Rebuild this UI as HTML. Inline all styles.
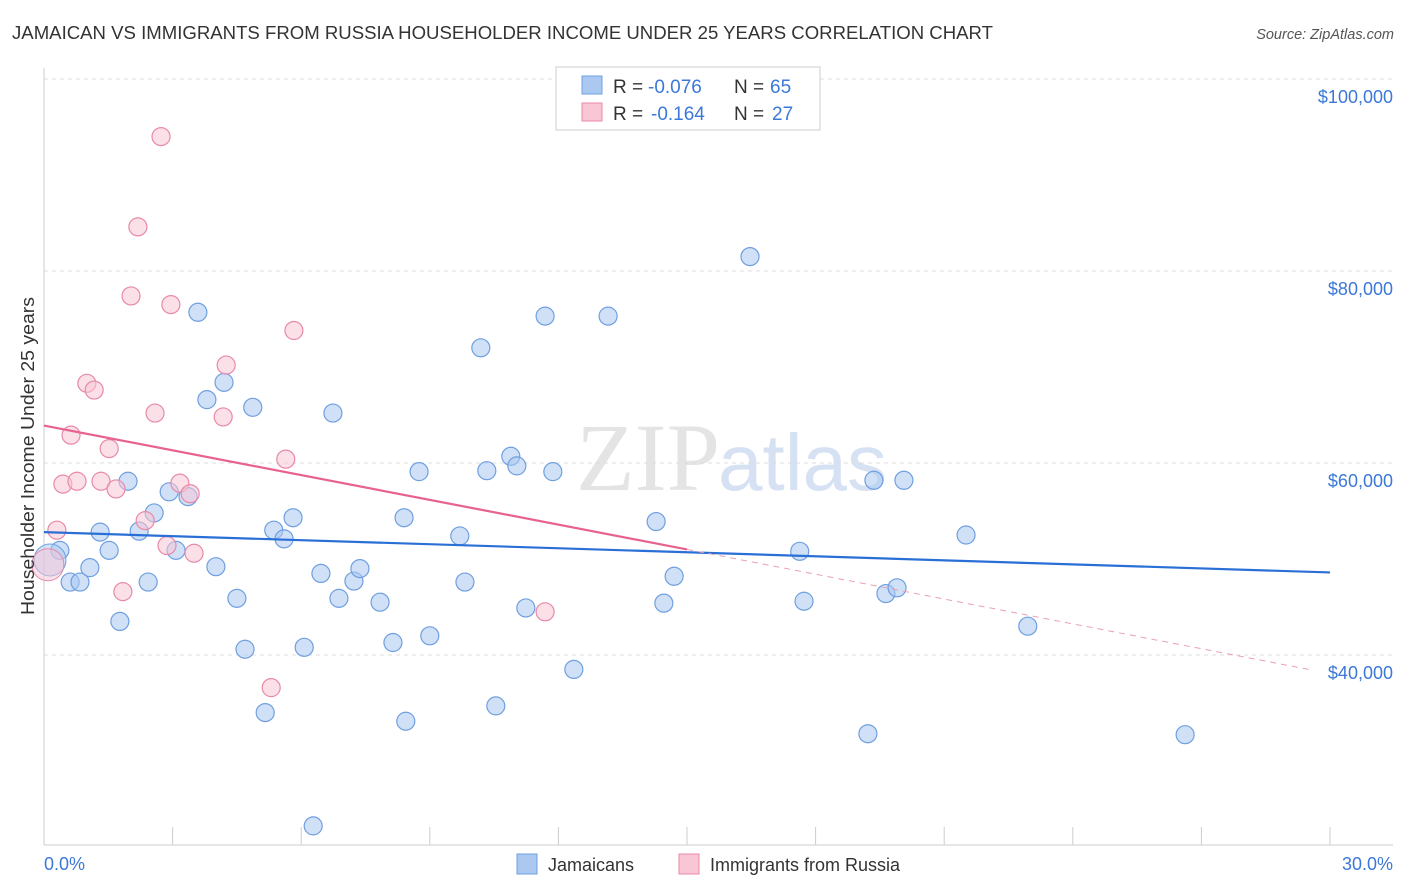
<!DOCTYPE html>
<html><head><meta charset="utf-8">
<style>
body{margin:0;background:#fff;font-family:"Liberation Sans",sans-serif;}
svg{display:block}
</style></head>
<body>
<svg id="chart" width="1406" height="892">
<text x="12" y="39" font-size="18" fill="#333" textLength="981" lengthAdjust="spacingAndGlyphs">JAMAICAN VS IMMIGRANTS FROM RUSSIA HOUSEHOLDER INCOME UNDER 25 YEARS CORRELATION CHART</text>
<text x="1394" y="39" font-size="14.5" fill="#555" font-style="italic" text-anchor="end">Source: ZipAtlas.com</text>
<text x="720" y="490" font-size="96" fill="#e4e4e4" text-anchor="end" font-family="Liberation Serif,serif">ZIP</text>
<text x="718" y="490" font-size="80" fill="#d6e2f3">atlas</text>
<g id="grid"></g>
<g id="axes"></g>
<g id="marks"></g>
<text transform="translate(34,456) rotate(-90)" font-size="18.5" fill="#333" text-anchor="middle" textLength="318" lengthAdjust="spacingAndGlyphs">Householder Income Under 25 years</text>
<g>
<rect x="556" y="67" width="264" height="63" fill="#fff" stroke="#ccc"/>
<rect x="582" y="76" width="20" height="18" fill="#aac8f0" stroke="#6f9fe0"/>
<rect x="582" y="103" width="20" height="18" fill="#f8c6d5" stroke="#e889a8"/>
<text x="613" y="93" font-size="19" fill="#333">R =</text>
<text x="648" y="93" font-size="19" fill="#3b78d8">-0.076</text>
<text x="734" y="93" font-size="19" fill="#333">N =</text>
<text x="770" y="93" font-size="19" fill="#3b78d8">65</text>
<text x="613" y="120" font-size="19" fill="#333">R =</text>
<text x="651" y="120" font-size="19" fill="#3b78d8">-0.164</text>
<text x="734" y="120" font-size="19" fill="#333">N =</text>
<text x="772" y="120" font-size="19" fill="#3b78d8">27</text>
</g>
<g>
<rect x="517" y="854" width="20" height="20" fill="#aac8f0" stroke="#6f9fe0"/>
<text x="548" y="871" font-size="18" fill="#333">Jamaicans</text>
<rect x="679" y="854" width="20" height="20" fill="#f8c6d5" stroke="#e889a8"/>
<text x="710" y="871" font-size="18" fill="#333">Immigrants from Russia</text>
</g>
</svg>
<script>
const yTicks=[100,80,60,40];
const yTickLabels=["$100,000","$80,000","$60,000","$40,000"];
const xTicks=[0,3,6,9,12,15,18,21,24,27,30];
const blueX=[0.37,0.61,0.84,1.07,1.31,1.52,1.77,1.96,2.22,2.43,2.57,2.92,3.08,3.36,3.59,3.80,4.01,4.20,4.50,4.69,4.87,5.16,5.36,5.60,5.81,6.07,6.28,6.46,6.74,6.88,7.23,7.37,7.84,8.14,8.40,8.44,8.75,9.00,9.70,9.82,10.19,10.33,10.54,10.89,11.03,11.24,11.69,11.87,12.36,13.16,14.28,14.46,14.70,16.47,17.63,17.73,19.22,19.36,19.64,19.90,20.06,21.51,22.95,26.62];
const blueY=[50.9,47.6,47.6,49.1,52.8,50.9,43.5,58.1,52.9,47.6,54.8,57.0,50.9,56.5,75.7,66.6,49.2,68.4,45.9,40.6,65.8,34.0,53.0,52.1,54.3,40.8,22.2,48.5,65.2,45.9,47.7,49.0,45.5,41.3,54.3,33.1,59.1,42.0,52.4,47.6,72.0,59.2,34.7,60.7,59.7,44.9,75.3,59.1,38.5,75.3,53.9,45.4,48.2,81.5,50.8,45.6,31.8,58.2,46.4,47.0,58.2,52.5,43.0,31.7];
const pinkX=[0.30,0.44,0.63,0.77,1.00,1.17,1.33,1.52,1.68,1.84,2.03,2.19,2.36,2.59,2.73,2.87,2.96,3.17,3.41,3.50,4.18,4.25,5.30,5.64,5.83,11.69];
const pinkY=[53.0,57.8,62.9,58.1,68.3,67.6,58.1,61.5,57.3,46.6,77.4,84.6,54.0,65.2,94.0,51.4,76.5,57.9,56.8,50.6,64.8,70.2,36.6,60.4,73.8,44.5];
const blueBig=[0.14,49.9];
const pinkBig=[0.09,49.4];
const blueTrend=[[0,52.8],[30,48.6]];
const pinkTrend=[[0,63.9],[15,51.0]];
const pinkDash=[[15,51.0],[29.5,38.5]];
const X=v=>44+v*(1330-44)/30;
const Y=v=>79+(100-v)*9.6;
const NS="http://www.w3.org/2000/svg";
function mk(p,t,a){const e=document.createElementNS(NS,t);for(const k in a)e.setAttribute(k,a[k]);p.appendChild(e);return e;}
const grid=document.getElementById('grid'),axes=document.getElementById('axes'),marks=document.getElementById('marks');
yTicks.forEach((t,i)=>{
 const l=mk(grid,'line',{x1:44,x2:1393,y1:Y(t),y2:Y(t),stroke:'#ddd','stroke-dasharray':'4,4'});
 
 
 const tx=mk(axes,'text',{x:1393,y:Y(t)+24,'font-size':18,fill:'#3b78d8','text-anchor':'end'});
 tx.textContent=yTickLabels[i];
 
 
});
const xa=mk(axes,'line',{x1:44,x2:1393,y1:845,y2:845,stroke:'#ccc'});


const ya=mk(axes,'line',{x1:44,x2:44,y1:68,y2:845,stroke:'#ccc'});


xTicks.forEach(t=>{const l=mk(axes,'line',{x1:X(t),x2:X(t),y1:827,y2:845,stroke:'#ccc'});
 
 });
[[0,'0.0%','start',44],[30,'30.0%','end',1393]].forEach(d=>{const t=mk(axes,'text',{x:d[3],y:870,'font-size':18,fill:'#3b78d8','text-anchor':d[2]});t.textContent=d[1];
 
 });
function dots(xs,ys,fill,stroke,name){xs.forEach((x,i)=>{const c=mk(marks,'circle',{cx:X(x),cy:Y(ys[i]),r:9,fill:fill,'fill-opacity':0.55,stroke:stroke,'stroke-width':1.2});
 
 });}
dots(blueX,blueY,'#aac8f0','#6f9fe0','jamaican-point');
dots(pinkX,pinkY,'#f8c6d5','#e889a8','russia-point');
let b=mk(marks,'circle',{cx:X(blueBig[0]),cy:Y(blueBig[1]),r:16,fill:'#aac8f0','fill-opacity':0.5,stroke:'#6f9fe0'});


b=mk(marks,'circle',{cx:X(pinkBig[0]),cy:Y(pinkBig[1]),r:16,fill:'#f8c6d5','fill-opacity':0.5,stroke:'#e889a8'});


function ln(p,col,w,dash,name){const l=mk(marks,'line',{x1:X(p[0][0]),y1:Y(p[0][1]),x2:X(p[1][0]),y2:Y(p[1][1]),stroke:col,'stroke-width':w});if(dash)l.setAttribute('stroke-dasharray',dash);
 
 }
ln(blueTrend,'#2a6fd6',2.2,null,'jamaican-trend-line');
ln(pinkTrend,'#e8628f',2.2,null,'russia-trend-line');
ln(pinkDash,'#e8a0b8',1,'6,5','russia-trend-extension');
</script>
</body></html>
